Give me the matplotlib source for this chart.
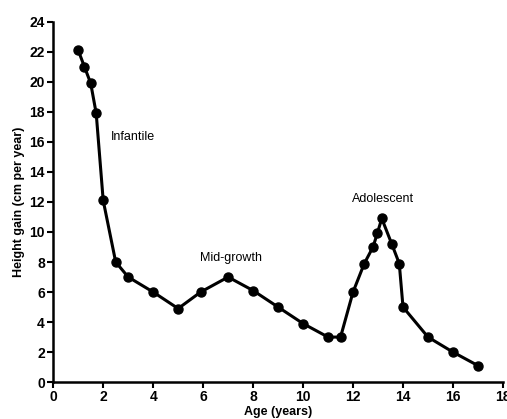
import matplotlib.pyplot as plt

# age (years) vs height gain (cm per year)
age = [1.0, 1.25, 1.5, 1.72, 2.0, 2.5, 3.0, 4.0, 5.0, 5.9, 7.0, 8.0, 9.0, 10.0,
       11.0, 11.5, 12.0, 12.45, 12.8, 12.97, 13.15, 13.55, 13.85, 14.0, 15.0, 16.0, 17.0]
gain = [22.1, 21.0, 19.9, 17.9, 12.1, 8.0, 7.0, 6.0, 4.9, 6.0, 7.0, 6.1, 5.0, 3.9,
        3.0, 3.0, 6.0, 7.9, 9.0, 9.9, 10.9, 9.2, 7.9, 5.0, 3.0, 2.0, 1.1]

phase_labels = ["Infantile", "Mid-growth", "Adolescent"]
phase_x = [2.3, 7.1, 13.2]
phase_y = [16.3, 8.3, 12.2]

plt.rcParams['font.family'] = ['Liberation Sans', 'DejaVu Sans']

fig = plt.figure(figsize=(5.07, 4.19), dpi=100)
ax = fig.add_axes([0.105, 0.088, 0.887, 0.86])

ax.plot(age, gain, color='black', lw=2.2, solid_joinstyle='round',
        marker='o', ms=6.5, mfc='black', mec='black')

for lab, x, y in zip(phase_labels, phase_x, phase_y):
    ha = 'left' if lab == "Infantile" else 'center'
    ax.text(x, y, lab, ha=ha, va='center', fontsize=9)

ax.set_xlim(0, 18)
ax.set_ylim(0, 24)
ax.set_xticks(range(0, 19, 2))
ax.set_yticks(range(0, 25, 2))
for s in ['top', 'right']:
    ax.spines[s].set_visible(False)
for s in ['left', 'bottom']:
    ax.spines[s].set_linewidth(1.8)
ax.tick_params(direction='out', length=4, width=1.5, labelsize=10, pad=2)
for t in ax.get_xticklabels() + ax.get_yticklabels():
    t.set_fontweight('bold')

ax.set_xlabel("Age (years)", fontsize=9, fontweight='bold', labelpad=1)
ax.set_ylabel("Height gain (cm per year)", fontsize=9, fontweight='bold', labelpad=3)

fig.savefig("out.png", dpi=100)
